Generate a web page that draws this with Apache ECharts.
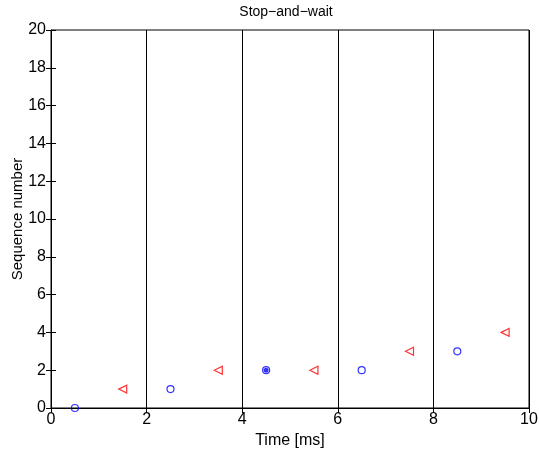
<!DOCTYPE html>
<html>
<head>
<meta charset="utf-8">
<script src="https://cdn.jsdelivr.net/npm/echarts@6/dist/echarts.min.js"></script>
<style>
  html, body { margin: 0; padding: 0; background: #fff; }
  #chart { width: 539px; height: 453px; }
</style>
</head>
<body>
<div id="chart"></div>
<script>
// Frames sent by the sender (time, sequence number).
const sentFrames = [[0.5, 0], [2.5, 1], [4.5, 2], [6.5, 2], [8.5, 3]];
// Acknowledgements received back.
const acks = [[1.5, 1], [3.5, 2], [5.5, 2], [7.5, 3], [9.5, 4]];
// Frame drawn with a filled dot over its circle.
const marked = [[4.5, 2]];

const xTicks = { min: 0, max: 10, interval: 2 };
const yTicks = { min: 0, max: 20, interval: 2 };

const font = "Liberation Sans, Arial, Helvetica, sans-serif";

let hiddenAxis = (ticks, pos) => ({
  type: "value", position: pos, min: ticks.min, max: ticks.max, interval: ticks.interval,
  axisLine: { show: false },
  axisTick: { show: true, inside: true, length: 5, lineStyle: { color: "#000" } },
  axisLabel: { show: false },
  splitLine: { show: false },
});

let chart = echarts.init(document.getElementById("chart"));
chart.setOption({
  animation: false,
  title: {
    text: "Stop\u2212and\u2212wait", left: 281, top: 0, textAlign: "center",
    textStyle: { fontFamily: font, fontSize: 14, fontWeight: "normal", color: "#000" },
  },
  grid: {
    left: 51, right: 10, top: 30, bottom: 45,
    outerBoundsMode: "none", containLabel: false,
    show: true, borderColor: "#000", borderWidth: 1, backgroundColor: "#fff",
  },
  xAxis: [
    {
      type: "value", min: xTicks.min, max: xTicks.max, interval: xTicks.interval,
      name: "Time [ms]", nameLocation: "middle", nameGap: 25, nameMoveOverlap: false,
      nameTextStyle: { fontFamily: font, fontSize: 16, color: "#000" },
      axisLine: { show: true, lineStyle: { color: "#000" } },
      axisTick: { show: true, inside: true, length: 5, lineStyle: { color: "#000" } },
      axisLabel: { fontFamily: font, fontSize: 16, color: "#000", margin: 4 },
      splitLine: { show: true, lineStyle: { color: "#000", width: 1 } },
    },
    hiddenAxis(xTicks, "top"),
  ],
  yAxis: [
    {
      type: "value", min: yTicks.min, max: yTicks.max, interval: yTicks.interval,
      name: "Sequence number", nameLocation: "middle", nameGap: 26, nameMoveOverlap: false,
      nameTextStyle: { fontFamily: font, fontSize: 15, color: "#000" },
      axisLine: { show: true, lineStyle: { color: "#000" } },
      axisTick: { show: true, inside: true, length: 5, lineStyle: { color: "#000" } },
      axisLabel: { fontFamily: font, fontSize: 16, color: "#000", margin: 5 },
      splitLine: { show: false },
    },
    hiddenAxis(yTicks, "right"),
  ],
  series: [
    {
      type: "scatter", data: sentFrames, symbol: "circle", symbolSize: 7,
      itemStyle: { color: "transparent", borderColor: "#0000ff", borderWidth: 1.2 },
    },
    {
      type: "scatter", data: acks, symbol: "triangle", symbolSize: [8, 8], symbolRotate: 90,
      itemStyle: { color: "transparent", borderColor: "#ff0000", borderWidth: 1.2 },
    },
    {
      type: "scatter", data: marked, symbol: "circle", symbolSize: 5,
      itemStyle: { color: "#0000ff" },
    },
  ],
});
</script>
</body>
</html>
